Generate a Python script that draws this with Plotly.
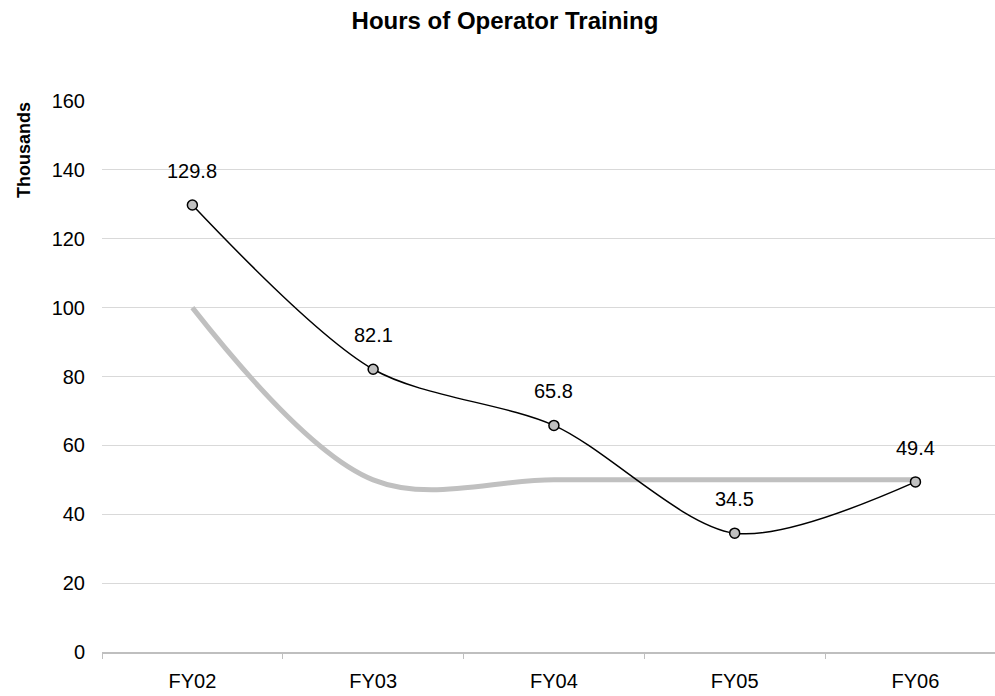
import plotly.graph_objects as go

years = ["FY02", "FY03", "FY04", "FY05", "FY06"]
actual_hours = [129.8, 82.1, 65.8, 34.5, 49.4]   # thousands of hours
goal_hours = [100, 50, 50, 50, 50]

FONT = "Liberation Sans, Arial, sans-serif"

fig = go.Figure()

# Goal line: thick light gray smoothed line
fig.add_trace(go.Scatter(
    x=years, y=goal_hours, mode="lines",
    line=dict(color="#c0c0c0", width=5, shape="spline", smoothing=1),
    hoverinfo="skip", showlegend=False,
))

# Actual hours: thin black smoothed line with gray circle markers
fig.add_trace(go.Scatter(
    x=years, y=actual_hours, mode="lines+markers",
    line=dict(color="#000000", width=1.5, shape="spline", smoothing=0.85),
    marker=dict(size=10, color="#c0c0c0", line=dict(color="#000000", width=1.5)),
    showlegend=False,
))

# Value labels above each marker
for yr, v in zip(years, actual_hours):
    fig.add_annotation(
        x=yr, y=v, text=f"{v}", showarrow=False, yshift=34,
        font=dict(family=FONT, size=20, color="#000000"),
    )

# Rotated axis caption near the top of the y axis
fig.add_annotation(
    text="<b>Thousands</b>", textangle=-90, showarrow=False,
    xref="paper", yref="paper", x=-0.0873, y=0.911,
    xanchor="center", yanchor="middle",
    font=dict(family=FONT, size=18, color="#000000"),
)

fig.update_layout(
    width=995, height=696,
    margin=dict(l=102, r=0, t=101, b=44),
    paper_bgcolor="white", plot_bgcolor="white",
    title=dict(
        text="<b>Hours of Operator Training</b>",
        x=0.5075, xref="container", xanchor="center",
        y=1 - 21 / 696, yref="container", yanchor="middle",
        font=dict(family=FONT, size=24, color="#000000"),
    ),
    xaxis=dict(
        type="category", range=[-0.5, 4.44],
        tickson="boundaries", ticks="outside", ticklen=5,
        tickcolor="#bfbfbf", showline=True, linecolor="#bfbfbf", linewidth=1.5,
        showgrid=False, zeroline=False, ticklabelstandoff=10,
        tickfont=dict(family=FONT, size=20, color="#000000"),
    ),
    yaxis=dict(
        range=[0, 160], dtick=20, tick0=0,
        showgrid=True, gridcolor="#d9d9d9", gridwidth=1,
        zeroline=False, showline=False, ticks="",
        ticklabelstandoff=16,
        tickfont=dict(family=FONT, size=20, color="#000000"),
    ),
)

fig.write_html("out.html")
